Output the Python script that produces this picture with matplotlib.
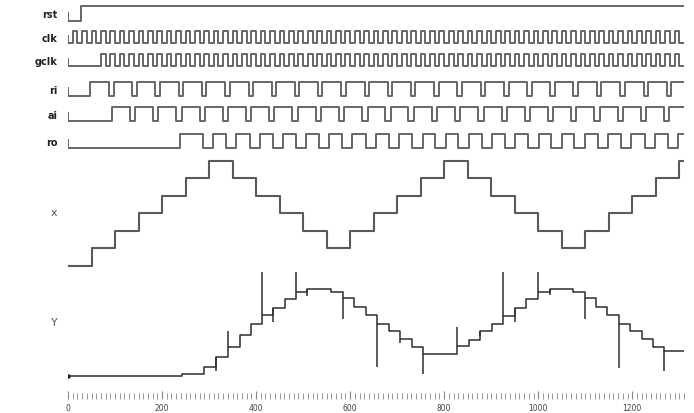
import numpy as np
import matplotlib.pyplot as plt
from matplotlib.ticker import MultipleLocator

t_end = 1310

# reset released shortly after start
rst_rise = [27]
rst_fall = []

# free running clock and gated clock
clk_period = 20
clk_first_rise = 10
gclk_first_rise = 70

# handshake signals (edge times)
ri_rise = [47, 97, 146, 196, 245, 294, 344, 393, 443, 492, 541, 591, 640,
           690, 739, 788, 838, 887, 937, 986, 1035, 1085, 1134, 1184, 1233, 1282]
ri_fall = [87, 137, 186, 236, 285, 334, 384, 433, 483, 532, 581, 631, 680,
           730, 779, 828, 878, 927, 977, 1026, 1075, 1125, 1174, 1224, 1273]
ai_rise = [93, 143, 192, 242, 291, 340, 390, 439, 489, 538, 587, 637, 686,
           736, 785, 834, 884, 933, 983, 1032, 1081, 1131, 1180, 1230, 1279]
ai_fall = [131, 181, 230, 280, 329, 378, 428, 477, 527, 576, 625, 675, 724,
           774, 823, 872, 922, 971, 1021, 1070, 1119, 1169, 1218, 1268]
ro_rise = [238, 309, 358, 408, 457, 507, 556, 605, 655, 704, 754, 803, 852,
           902, 951, 1001, 1050, 1099, 1149, 1198, 1248, 1297]
ro_fall = [287, 336, 386, 435, 485, 534, 583, 633, 682, 732, 781, 830, 880,
           929, 979, 1028, 1077, 1127, 1176, 1226, 1275]

# x : triangle staircase
x_times = [0, 50, 100, 150, 200, 250, 300, 350, 400, 450, 500, 550, 600, 650,
           700, 750, 800, 850, 900, 950, 1000, 1050, 1100, 1150, 1200, 1250, 1300]
x_values = [0, 1, 2, 3, 4, 5, 6, 5, 4, 3, 2, 1, 2, 3, 4, 5, 6, 5, 4, 3, 2, 1,
            2, 3, 4, 5, 6]

# Y : filter output with glitches
y_times = [0, 242, 289, 315, 340, 366, 389, 413, 437, 462, 485, 509, 559, 584,
           609, 634, 657, 682, 706, 731, 756, 828, 852, 877, 901, 926, 951, 974,
           1000, 1024, 1074, 1099, 1123, 1146, 1171, 1196, 1221, 1245, 1268]
y_values = [0, 2, 9, 19, 29, 41, 52, 61, 68, 77, 84, 87, 84, 78, 69, 61, 52, 45,
            37, 29, 22, 30, 36, 45, 52, 60, 68, 77, 84, 87, 84, 78, 69, 61, 52,
            45, 37, 29, 25]
y_spike_times = [315, 340, 413, 437, 485, 509, 584, 657, 706, 756, 828, 877,
                 926, 951, 1000, 1024, 1099, 1171, 1268]
y_spike_values = [5, 45, 104, 54, 104, 80, 57, 9, 33, 2, 49, 40, 104, 54, 104,
                  81, 57, 8, 5]


def to_steps(rise, fall, init=0):
    ev = sorted([(t, 1) for t in rise] + [(t, 0) for t in fall])
    t = [0] + [e[0] for e in ev] + [t_end]
    v = [init] + [e[1] for e in ev] + [ev[-1][1]]
    return np.array(t), np.array(v)


clk_r = np.arange(clk_first_rise, t_end, clk_period)
clk_f = clk_r + clk_period / 2
gclk_r = clk_r[clk_r >= gclk_first_rise]
gclk_f = gclk_r + clk_period / 2

signals = [
    ("rst", rst_rise, rst_fall, 22, 15),
    ("clk", clk_r, clk_f, 44, 12),
    ("gclk", gclk_r, gclk_f, 67, 12),
    ("ri", ri_rise, ri_fall, 97, 14),
    ("ai", ai_rise, ai_fall, 122, 14),
    ("ro", ro_rise, ro_fall, 149, 14),
]

fig = plt.figure(figsize=(6.94, 4.14), dpi=100)
ax = fig.add_axes([68 / 694, 14 / 414, 616 / 694, 400 / 414])
ax.set_xlim(0, t_end)
ax.set_ylim(400, 0)

wave_col = "#666666"
for name, r, f, low, amp in signals:
    t, v = to_steps(r, f)
    ax.step(t, low - v * amp, where="post", color=wave_col, lw=1.4)
    # unknown state stub at time zero
    ax.plot([0, 0], [low - amp * 0.55, low], color=wave_col, lw=1.4)
    ax.text(-22, low - amp / 2 + 1, name, ha="right", va="center",
            fontsize=7, fontweight="bold", color="#222", clip_on=False)

# x staircase
x_base, x_step = 266.7, 17.5
xt = np.append(x_times, t_end)
xv = np.append(x_values, x_values[-1])
ax.step(xt, x_base - xv * x_step, where="post", color="#5a5a5a", lw=1.5)
ax.text(-22, 213, "x", ha="right", va="center", fontsize=8, color="#555",
        clip_on=False)

# Y waveform
y_base = 377
yt = np.append(y_times, t_end)
yv = np.append(y_values, y_values[-1])
ax.step(yt, y_base - yv, where="post", color="#2e2e2e", lw=1.1)
for s, sv in zip(y_spike_times, y_spike_values):
    cur = y_values[y_times.index(s)]
    ax.vlines(s, y_base - cur, y_base - sv, color="#2e2e2e", lw=1.1)
ax.plot(0, y_base, "o", ms=2.2, color="#222")
ax.text(-22, 323, "Y", ha="right", va="center", fontsize=8, color="#555",
        clip_on=False)

for s in ax.spines.values():
    s.set_visible(False)
ax.set_yticks([])
ax.set_xticks(np.arange(0, 1201, 200))
ax.xaxis.set_minor_locator(MultipleLocator(10))
ax.tick_params(axis="x", which="major", direction="in", length=6,
               color="#888", width=0.8, labelsize=5.5, labelcolor="#444", pad=3)
ax.tick_params(axis="x", which="minor", direction="in", length=4,
               color="#999", width=0.7)

fig.savefig("out.png", dpi=100)
